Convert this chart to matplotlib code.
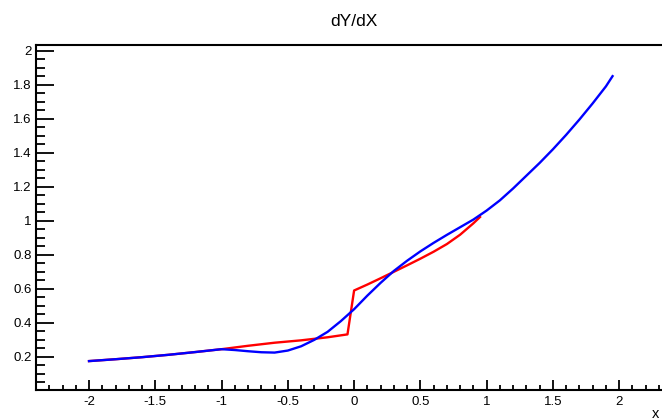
import matplotlib
matplotlib.use("Agg")
import matplotlib.pyplot as plt
from matplotlib.ticker import MultipleLocator

# red curve (finite differences, with the jump at 0)
red_x = [-2.0, -1.8, -1.6, -1.4, -1.2, -1.0, -0.8, -0.6, -0.4, -0.2, -0.05,
         0.0, 0.1, 0.2, 0.3, 0.4, 0.5, 0.6, 0.7, 0.8, 0.9, 0.95]
red_y = [0.175, 0.186, 0.198, 0.212, 0.228, 0.245, 0.265, 0.283, 0.297, 0.315, 0.332,
         0.59, 0.625, 0.662, 0.70, 0.738, 0.777, 0.818, 0.863, 0.918, 0.985, 1.022]

# blue curve (smooth derivative)
blue_x = [-2.0, -1.8, -1.6, -1.4, -1.2, -1.0, -0.9, -0.8, -0.7, -0.6, -0.5, -0.4,
          -0.3, -0.2, -0.1, 0.0, 0.1, 0.2, 0.3, 0.4, 0.5, 0.6, 0.7, 0.8, 0.9, 1.0,
          1.1, 1.2, 1.3, 1.4, 1.5, 1.6, 1.7, 1.8, 1.9, 1.95]
blue_y = [0.175, 0.186, 0.198, 0.212, 0.228, 0.245, 0.240, 0.233, 0.227, 0.225, 0.237, 0.262,
          0.30, 0.347, 0.41, 0.48, 0.56, 0.635, 0.705, 0.765, 0.82, 0.87, 0.917, 0.962, 1.007, 1.06,
          1.12, 1.19, 1.265, 1.34, 1.42, 1.505, 1.595, 1.69, 1.79, 1.85]

plt.rcParams['font.family'] = ['Liberation Sans', 'DejaVu Sans']

fig = plt.figure(figsize=(6.62, 4.2), dpi=100)
ax = fig.add_axes([0.0544, 0.0714, 0.961, 0.8214])

ax.plot(red_x, red_y, color='#ff0000', lw=1.7)
ax.plot(blue_x, blue_y, color='#0000ff', lw=1.7)

ax.set_xlim(-2.4, 2.4)
ax.set_ylim(0.005, 2.033)

ax.xaxis.set_major_locator(MultipleLocator(0.5))
ax.xaxis.set_minor_locator(MultipleLocator(0.1))
ax.yaxis.set_major_locator(MultipleLocator(0.2))
ax.yaxis.set_minor_locator(MultipleLocator(0.05))
ax.xaxis.set_major_formatter(plt.FuncFormatter(lambda v, p: f"{v:g}"))
ax.yaxis.set_major_formatter(plt.FuncFormatter(lambda v, p: f"{v:g}"))

ax.tick_params(axis='x', which='major', direction='in', length=7.2, width=1.3,
               labelsize=9.5, pad=4)
ax.tick_params(axis='x', which='minor', direction='in', length=3.6, width=1.3)
ax.tick_params(axis='y', which='major', direction='in', length=13, width=1.3,
               labelsize=9.5, pad=3)
ax.tick_params(axis='y', which='minor', direction='in', length=6.5, width=1.3)

for s in ax.spines.values():
    s.set_linewidth(1.5)

ax.set_title("dY/dX", fontsize=12.5, pad=14)
ax.text(0.968, -0.05, "x", transform=ax.transAxes, ha='left', va='top', fontsize=10.5)

fig.savefig("out.png", dpi=100)
